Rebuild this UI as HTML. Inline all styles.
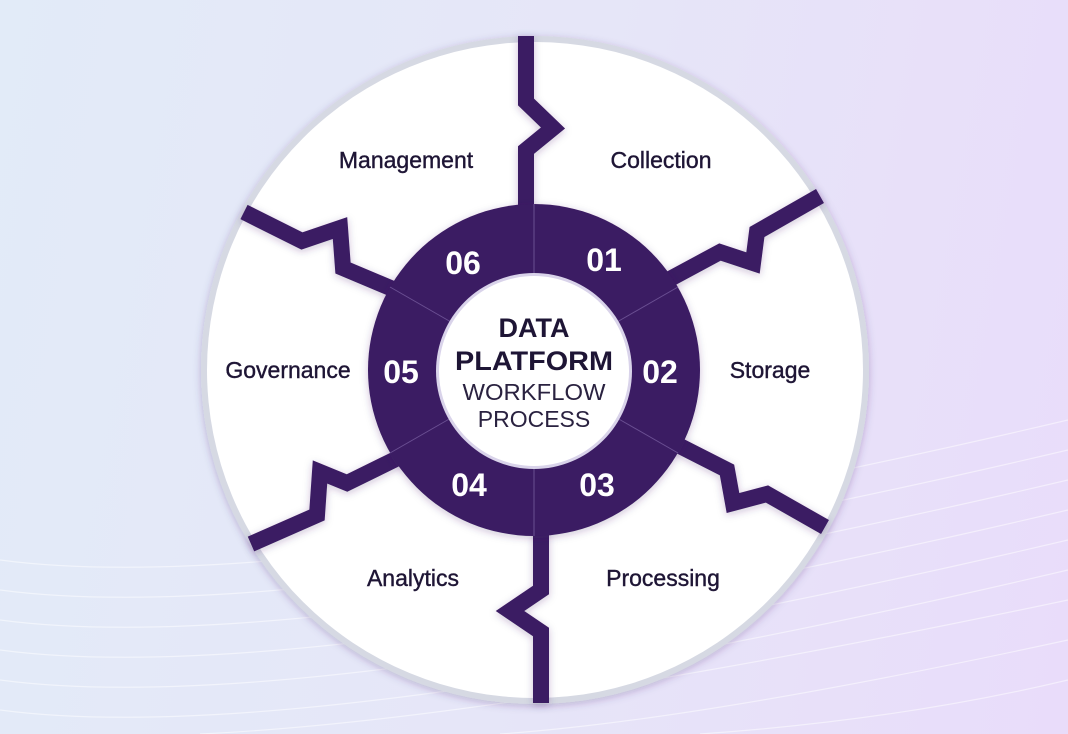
<!DOCTYPE html>
<html><head><meta charset="utf-8"><style>
html,body{margin:0;padding:0;width:1068px;height:734px;overflow:hidden}
body{background:linear-gradient(100deg,#e2ebf8 0%,#e6e6f8 50%,#e9dcfa 100%)}
</style></head><body>
<svg width="1068" height="734" viewBox="0 0 1068 734" xmlns="http://www.w3.org/2000/svg" style="position:absolute;left:0;top:0">
<defs>
<filter id="sh" x="-20%" y="-20%" width="140%" height="140%"><feDropShadow dx="0" dy="2" stdDeviation="4" flood-color="#3a1a63" flood-opacity="0.25"/></filter>
</defs>
<g stroke="#ffffff" stroke-opacity="0.5" fill="none" stroke-width="1.2">
<path d="M0 560 Q300 600 1068 420"/><path d="M0 590 Q300 630 1068 450"/><path d="M0 620 Q300 660 1068 480"/><path d="M0 650 Q300 690 1068 510"/><path d="M0 680 Q300 720 1068 540"/><path d="M0 710 Q300 750 1068 570"/><path d="M200 734 Q500 720 1068 600"/><path d="M500 734 Q700 720 1068 640"/><path d="M700 734 Q900 720 1068 680"/>
</g>
<circle cx="535" cy="370" r="334" fill="#d6d9e3" filter="url(#sh)"/>
<circle cx="535" cy="370" r="328" fill="#ffffff"/>
<g fill="none" stroke="#3a1a63" stroke-width="16" stroke-linejoin="miter" filter="url(#sh)">
<polyline points="526,36 526,102 553,128 526,150 526,215"/>
<polyline points="668,280 720,252 753,263 757,232 820,196"/>
<polyline points="668,440 727,470 733,503 767,494 825,527"/>
<polyline points="541,525 541,590 510,611 541,632 541,703"/>
<polyline points="400,457 347,483 320,472 317,515 251,544"/>
<polyline points="400,292 343,268 340,228 302,241 244,212"/>
</g>
<circle cx="534" cy="370" r="166" fill="#3a1a63" filter="url(#sh)"/>
<g stroke="#6a4f92" stroke-width="1">
<line x1="534" y1="204" x2="534" y2="275"/><line x1="534" y1="466" x2="534" y2="536"/>
<line x1="390" y1="287" x2="451" y2="322"/><line x1="617" y1="418" x2="678" y2="453"/>
<line x1="390" y1="453" x2="451" y2="418"/><line x1="617" y1="322" x2="678" y2="287"/>
</g>
<circle cx="534" cy="371" r="98" fill="#d9d3ea"/>
<circle cx="534" cy="371" r="95" fill="#ffffff"/>
<g font-family="Liberation Sans, sans-serif" text-anchor="middle">
<text x="534" y="337" font-size="27" font-weight="bold" fill="#1e1535">DATA</text>
<text x="534" y="370" font-size="27" font-weight="bold" fill="#1e1535" textLength="158" lengthAdjust="spacingAndGlyphs">PLATFORM</text>
<text x="534" y="400" font-size="23" fill="#2a2240" textLength="143" lengthAdjust="spacingAndGlyphs">WORKFLOW</text>
<text x="534" y="427" font-size="23" fill="#2a2240">PROCESS</text>
<g font-size="32" font-weight="bold" fill="#ffffff">
<text x="463" y="274">06</text><text x="604" y="271">01</text>
<text x="660" y="383">02</text><text x="401" y="383">05</text>
<text x="469" y="496">04</text><text x="597" y="496">03</text>
</g>
<g font-size="23" fill="#1e1535" stroke="#1e1535" stroke-width="0.4">
<text x="406" y="168">Management</text><text x="661" y="168">Collection</text>
<text x="770" y="378">Storage</text><text x="288" y="378">Governance</text>
<text x="413" y="586">Analytics</text><text x="663" y="586">Processing</text>
</g>
</g>
</svg>
</body></html>
